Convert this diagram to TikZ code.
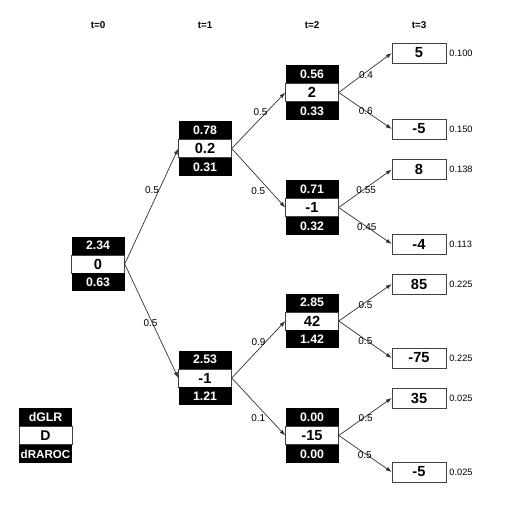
\documentclass[tikz,border=0pt]{standalone}
\usepackage{fontspec}
\setmainfont{Liberation Sans}
\usetikzlibrary{arrows.meta,positioning}

\begin{document}
\begin{tikzpicture}[x=0.03cm,y=-0.03cm,>={Latex[length=5pt,width=3.5pt]}]
\tikzstyle{mid}=[draw=black!75,fill=white,minimum width=1.59cm,minimum height=0.54cm,inner sep=0pt,font=\fontsize{12.5}{14}\selectfont\bfseries]
\tikzstyle{blk}=[fill=black,text=white,minimum width=1.59cm,minimum height=0.54cm,inner sep=0pt,font=\fontsize{10.5}{12}\selectfont\bfseries]
\tikzstyle{leaf}=[draw=black!75,minimum width=1.62cm,minimum height=0.6cm,inner sep=0pt,font=\fontsize{12.5}{14}\selectfont\bfseries]
\tikzstyle{prob}=[anchor=west,inner sep=0pt,font=\fontsize{7.9}{9}\selectfont]
\tikzstyle{lbl}=[inner sep=0pt,font=\fontsize{8.5}{10}\selectfont]
\tikzstyle{tlab}=[inner sep=0pt,font=\fontsize{8.4}{10}\selectfont\bfseries]
\tikzstyle{edge}=[->,draw=black!80,line width=0.6pt]
\useasboundingbox (0,0) rectangle (507,510);
% time steps
\foreach \i/\x in {0/98,1/205,2/312,3/419} \node[tlab] (t\i) at (\x,25) {t=\i};
% tree nodes: top value, state, bottom value
\foreach \n/\x/\y/\a/\b/\c in {r/98/264/2.34/0/0.63,a/205/148.5/0.78/0.2/0.31,b/205/378/2.53/-1/1.21,c/312/92.5/0.56/2/0.33,d/312/207.5/0.71/-1/0.32,e/312/321/2.85/42/1.42,f/312/435.5/0.00/-15/0.00} {
  \node[mid] (\n) at (\x,\y) {\b};
  \node[blk,above=0pt of \n] (\n-t) {\a};
  \node[blk,below=0pt of \n] (\n-b) {\c};
}
% final states with probabilities
\foreach \n/\y/\v/\p in {l1/53/5/0.100,l2/129/-5/0.150,l3/169.5/8/0.138,l4/244/-4/0.113,l5/284/85/0.225,l6/358/-75/0.225,l7/398/35/0.025,l8/472/-5/0.025} {
  \node[leaf] (\n) at (419,\y) {\v};
  \node[prob,right=0.09cm of \n] (p\n) {\p};
}
% branches
\foreach \p/\c/\l/\q/\s in {r/a/0.5/0.64/-7,r/b/0.5/0.52/-2,a/c/0.5/0.65/-6,a/d/0.5/0.72/-12,b/e/0.9/0.63/-7,b/f/0.1/0.70/-11,c/l1/0.4/0.44/4,c/l2/0.6/0.51/0,d/l3/0.55/0.46/3,d/l4/0.45/0.53/0,e/l5/0.5/0.43/4,e/l6/0.5/0.54/-2,f/l7/0.5/0.47/2,f/l8/0.5/0.53/-2}
  \draw[edge] (\p.east) -- node[lbl,pos=\q,xshift=\s*0.03cm] {\l} (\c.west);
% legend
\node[mid,font=\fontsize{12}{14}\selectfont\bfseries] (key) at (45.5,435.5) {D};
\node[blk,above=0pt of key] (key-t) {dGLR};
\node[blk,below=0pt of key,font=\fontsize{9.9}{11}\selectfont\bfseries] (key-b) {dRAROC};
\end{tikzpicture}
\end{document}
